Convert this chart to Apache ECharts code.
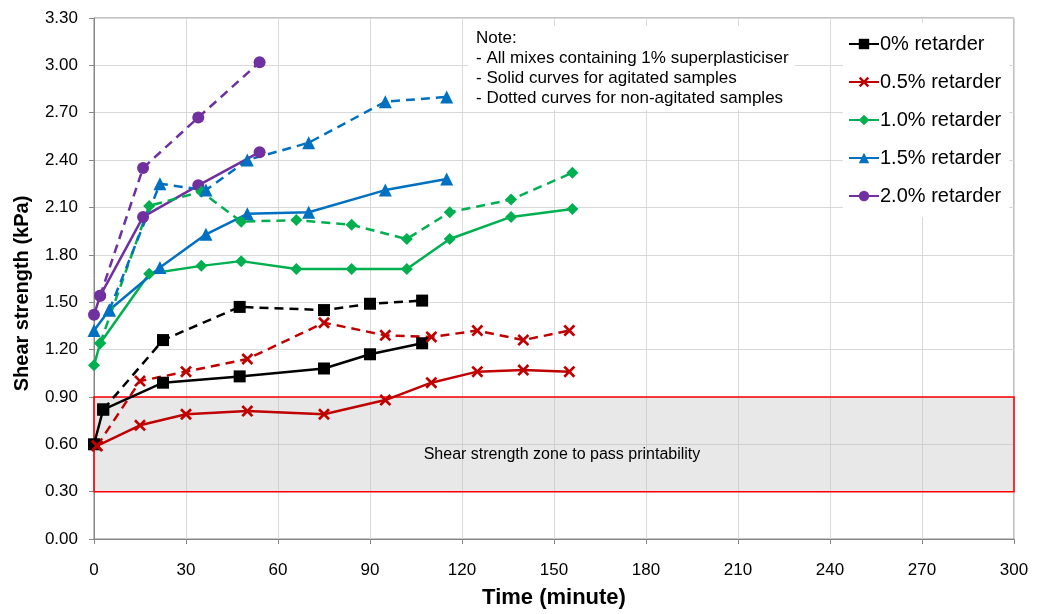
<!DOCTYPE html>
<html>
<head>
<meta charset="utf-8">
<script src="https://cdn.jsdelivr.net/npm/echarts@6/dist/echarts.min.js"></script>
<style>
  html, body { margin: 0; padding: 0; background: #fff; }
  #chart { width: 1039px; height: 614px; }
</style>
</head>
<body>
<div id="chart"></div>
<script>
// series names (legend)
const names = ['0% retarder', '0.5% retarder', '1.0% retarder', '1.5% retarder', '2.0% retarder'];

// 0% retarder
const t0Agit = [0, 3, 22.5, 47.5, 75, 90, 107];
const v0Agit = [0.60, 0.82, 0.99, 1.03, 1.08, 1.17, 1.24];
const t0Still = [3, 22.5, 47.5, 75, 90, 107];
const v0Still = [0.82, 1.26, 1.47, 1.45, 1.49, 1.51];

// 0.5% retarder
const t05Agit = [1, 15, 30, 50, 75, 95, 110, 125, 140, 155];
const v05Agit = [0.59, 0.72, 0.79, 0.81, 0.79, 0.88, 0.99, 1.06, 1.07, 1.06];
const t05Still = [1, 15, 30, 50, 75, 95, 110, 125, 140, 155];
const v05Still = [0.59, 1.00, 1.06, 1.14, 1.37, 1.29, 1.28, 1.32, 1.26, 1.32];

// 1.0% retarder
const t10Agit = [0, 2, 18, 35, 48, 66, 84, 102, 116, 136, 156];
const v10Agit = [1.10, 1.24, 1.68, 1.73, 1.76, 1.71, 1.71, 1.71, 1.90, 2.04, 2.09];
const t10Still = [2, 18, 35, 48, 66, 84, 102, 116, 136, 156];
const v10Still = [1.24, 2.11, 2.20, 2.01, 2.02, 1.99, 1.90, 2.07, 2.15, 2.32];

// 1.5% retarder
const t15Agit = [0, 5, 21.5, 36.5, 50, 70, 95, 115];
const v15Agit = [1.32, 1.45, 1.72, 1.93, 2.06, 2.07, 2.21, 2.28];
const t15Still = [5, 21.5, 36.5, 50, 70, 95, 115];
const v15Still = [1.45, 2.25, 2.21, 2.40, 2.51, 2.77, 2.80];

// 2.0% retarder
const t20Agit = [0, 2, 16, 34, 54];
const v20Agit = [1.42, 1.54, 2.04, 2.24, 2.45];
const t20Still = [2, 16, 34, 54];
const v20Still = [1.54, 2.35, 2.67, 3.02];

// printability zone (kPa)
const zoneLow = 0.30;
const zoneHigh = 0.90;

const noteLines = [
  'Note:',
  '- All mixes containing 1% superplasticiser',
  '- Solid curves for agitated samples',
  '- Dotted curves for non-agitated samples'
];

const crossPath = 'path://M1.6,0 L5,3.4 L8.4,0 L10,1.6 L6.6,5 L10,8.4 L8.4,10 L5,6.6 L1.6,10 L0,8.4 L3.4,5 L0,1.6 Z';

function pairs(t, v) {
  return t.map((x, i) => [x, v[i]]);
}

function line(name, t, v, color, symbol, size, dashed) {
  return {
    type: 'line',
    name: name,
    data: pairs(t, v),
    symbol: symbol,
    symbolSize: size,
    showAllSymbol: true,
    itemStyle: { color: color },
    lineStyle: { color: color, width: 2.5, type: dashed ? [9, 6] : 'solid' },
    z: 3
  };
}

const colors = ['#000000', '#c00000', '#00b050', '#0070c0', '#7030a0'];
const symbols = ['rect', crossPath, 'diamond', 'triangle', 'circle'];
const sizes = [12, 12, 12, 13, 12];

const agit = [[t0Agit, v0Agit], [t05Agit, v05Agit], [t10Agit, v10Agit], [t15Agit, v15Agit], [t20Agit, v20Agit]];
const still = [[t0Still, v0Still], [t05Still, v05Still], [t10Still, v10Still], [t15Still, v15Still], [t20Still, v20Still]];

const series = [];
agit.forEach((d, i) => series.push(line(names[i], d[0], d[1], colors[i], symbols[i], sizes[i], false)));
still.forEach((d, i) => series.push(line(names[i], d[0], d[1], colors[i], symbols[i], sizes[i], true)));

// zone overlay drawn above the curves
series.push({
  type: 'line',
  name: 'zone',
  data: [],
  z: 10,
  markArea: {
    silent: true,
    itemStyle: {
      color: 'rgba(190,190,190,0.35)',
      borderColor: '#ff0000',
      borderWidth: 1.5
    },
    label: {
      show: true,
      position: 'inside',
      offset: [8, 10],
      color: '#000',
      fontSize: 16,
      fontFamily: 'Liberation Sans, Arial, sans-serif'
    },
    data: [[
      { name: 'Shear strength zone to pass printability', xAxis: 0, yAxis: zoneLow },
      { xAxis: 300, yAxis: zoneHigh }
    ]]
  }
});

var myChart = echarts.init(document.getElementById('chart'));

option = {
  animation: false,
  backgroundColor: '#fff',
  textStyle: { fontFamily: 'Liberation Sans, Arial, sans-serif' },
  grid: {
    left: 94, right: 25, top: 18, bottom: 71,
    show: true,
    borderColor: '#868686',
    borderWidth: 1
  },
  legend: {
    data: names,
    orient: 'vertical',
    left: 843,
    top: 23,
    padding: [10, 8, 10, 5],
    backgroundColor: '#fff',
    itemWidth: 30,
    itemHeight: 13,
    itemGap: 16,
    textStyle: { fontSize: 20, color: '#000', lineHeight: 22, padding: [0, 0, 0, -4] }
  },
  xAxis: {
    type: 'value',
    min: 0, max: 300, interval: 30,
    name: 'Time (minute)',
    nameLocation: 'middle',
    nameGap: 48,
    nameTextStyle: { fontSize: 22, fontWeight: 'bold', color: '#000' },
    axisLine: { show: true, lineStyle: { color: '#868686' } },
    axisTick: { show: true, length: 5, lineStyle: { color: '#868686' } },
    axisLabel: { margin: 23, fontSize: 17, color: '#000' },
    splitLine: { show: true, lineStyle: { color: '#d9d9d9' } }
  },
  yAxis: {
    type: 'value',
    min: 0, max: 3.3, interval: 0.3,
    name: 'Shear strength (kPa)',
    nameLocation: 'middle',
    nameGap: 62,
    nameTextStyle: { fontSize: 20, fontWeight: 'bold', color: '#000', padding: [0, 30, 0, 0] },
    axisLine: { show: true, lineStyle: { color: '#868686' } },
    axisTick: { show: true, length: 5, lineStyle: { color: '#868686' } },
    axisLabel: { margin: 16, fontSize: 17, color: '#000', formatter: v => v.toFixed(2) },
    splitLine: { show: true, lineStyle: { color: '#d9d9d9' } }
  },
  graphic: [{
    type: 'text',
    left: 468,
    top: 26,
    z: 20,
    style: {
      text: noteLines.join('\n'),
      font: '17px "Liberation Sans", Arial, sans-serif',
      lineHeight: 20,
      fill: '#000',
      backgroundColor: '#fff',
      padding: [2, 6, 2, 8]
    }
  }],
  series: series
};

myChart.setOption(option);
</script>
</body>
</html>
